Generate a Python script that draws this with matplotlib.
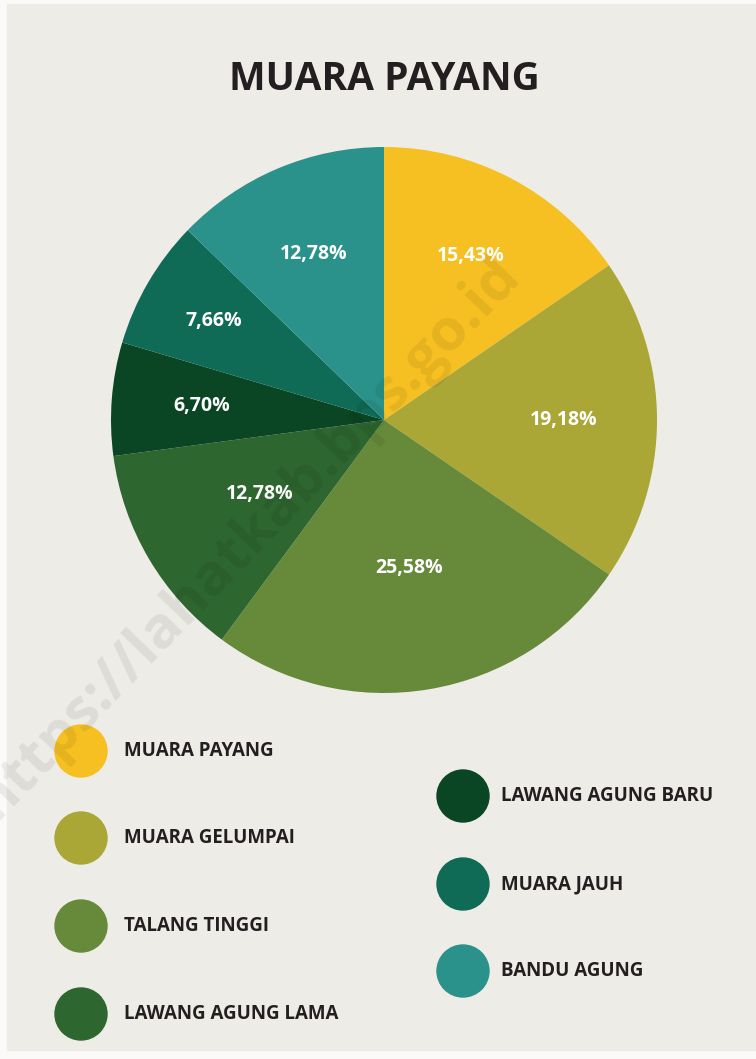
# Pie chart of Muara Payang village shares, paper-style poster
import numpy as np
import matplotlib.pyplot as plt
from matplotlib.patches import Ellipse, Rectangle

desa = ['MUARA PAYANG', 'MUARA GELUMPAI', 'TALANG TINGGI', 'LAWANG AGUNG LAMA',
        'LAWANG AGUNG BARU', 'MUARA JAUH', 'BANDU AGUNG']
persen = [15.43, 19.18, 25.58, 12.78, 6.70, 7.66, 12.78]
warna = ['#f6c022', '#aaa737', '#678a3a', '#2e6630', '#0a4623', '#0f6b56', '#2a928a']

W, H = 756, 1059
fig = plt.figure(figsize=(W / 100, H / 100), dpi=100)
fig.patch.set_facecolor('#fbfaf8')

# background paper + overlay axes in pixel coords
bg = fig.add_axes([0, 0, 1, 1])
bg.set_xlim(0, W)
bg.set_ylim(H, 0)
bg.axis('off')
bg.add_patch(Rectangle((7, 4), W - 7, H - 13, color='#eeece7', zorder=0))

bg.text(384, 80, 'MUARA PAYANG', ha='center', va='center', fontsize=28,
        fontweight='bold', family='Open Sans', color='#231f20')

# pie
cx, cy, R = 384, 420, 273
ax = fig.add_axes([(cx - R) / W, 1 - (cy + R) / H, 2 * R / W, 2 * R / H])
wedges, _ = ax.pie(persen, colors=warna, startangle=90, counterclock=False,
                   radius=1, wedgeprops=dict(linewidth=0))
ax.set_xlim(-1, 1)
ax.set_ylim(-1, 1)
ax.set_aspect('equal')
ax.axis('off')

label_r = [0.68, 0.66, 0.55, 0.53, 0.67, 0.72, 0.66]
for w, p, r in zip(wedges, persen, label_r):
    ang = np.deg2rad((w.theta1 + w.theta2) / 2)
    txt = f'{p:.2f}%'.replace('.', ',')
    ax.text(r * np.cos(ang), r * np.sin(ang), txt, ha='center', va='center',
            fontsize=14, fontweight='bold', family='Open Sans', color='white')

# legend
kiri_y = [751, 838, 926, 1014]
kanan_y = [796, 884, 971]
pos = [(81, y, 43) for y in kiri_y] + [(463, y, 38) for y in kanan_y]
for (x, y, dx), nama, c in zip(pos, desa, warna):
    bg.add_patch(Ellipse((x, y), 52, 52, color=c, zorder=2))
    bg.text(x + dx, y, nama, ha='left', va='center', fontsize=13.5,
            fontweight='bold', family='Open Sans', color='#231f20', zorder=3)

# watermark on top of everything
fig.text(248 / W, 1 - 538 / H, 'https://lahatkab.bps.go.id', rotation=46,
         ha='center', va='center', fontsize=42, fontweight='bold',
         family='Open Sans', color='black', alpha=0.07, zorder=10)

fig.savefig('out.png', dpi=100)
